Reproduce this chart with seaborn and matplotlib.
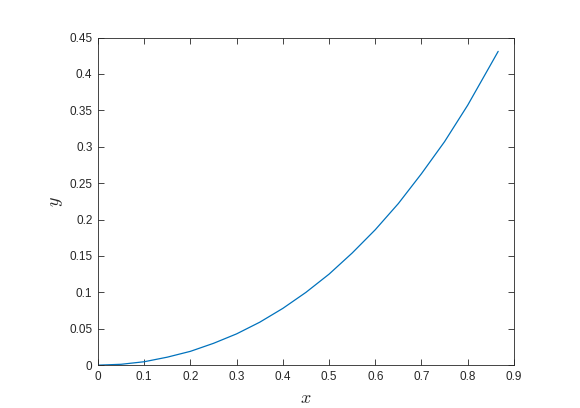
import numpy as np
import pandas as pd
import matplotlib
matplotlib.use("Agg")
import matplotlib.pyplot as plt
import matplotlib.ticker as mticker
import seaborn as sns

# ===============================
# Data
# ===============================
x_vals = [0.0, 0.05, 0.1, 0.15, 0.2, 0.25, 0.3, 0.35, 0.4, 0.45,
          0.5, 0.55, 0.6, 0.65, 0.7, 0.75, 0.8, 0.85, 0.866]
y_vals = [0.0, 0.0012, 0.0047, 0.011, 0.019, 0.030, 0.043, 0.059, 0.078, 0.100,
          0.125, 0.154, 0.186, 0.222, 0.263, 0.307, 0.357, 0.413, 0.431]

x_ticks = [0, 0.1, 0.2, 0.3, 0.4, 0.5, 0.6, 0.7, 0.8, 0.9]
y_ticks = [0, 0.05, 0.1, 0.15, 0.2, 0.25, 0.3, 0.35, 0.4, 0.45]

df = pd.DataFrame({"x": x_vals, "y": y_vals})

# ===============================
# Style
# ===============================
sns.set_style("ticks")
plt.rcParams["font.family"] = ["Liberation Sans", "DejaVu Sans"]
plt.rcParams["mathtext.fontset"] = "cm"

fig = plt.figure(figsize=(5.8, 4.08), dpi=100)
ax = fig.add_axes([0.169, 0.105, 0.717, 0.803])

sns.lineplot(data=df, x="x", y="y", ax=ax, color="#0072BD", linewidth=0.9)

ax.set_xlim(0, 0.9)
ax.set_ylim(0, 0.45)
ax.set_xticks(x_ticks)
ax.set_yticks(y_ticks)
fmt = mticker.FuncFormatter(lambda v, p: "%g" % round(v, 4))
ax.xaxis.set_major_formatter(fmt)
ax.yaxis.set_major_formatter(fmt)

ax.tick_params(direction="in", length=4, width=0.6, colors="#262626",
               labelsize=8.5, top=True, right=True, pad=4)
for side in ax.spines.values():
    side.set_visible(True)
    side.set_linewidth(0.6)
    side.set_color("#262626")

ax.set_xlabel(r"$x$", fontsize=13, color="#262626", labelpad=5)
ax.set_ylabel(r"$y$", fontsize=13, color="#262626", labelpad=3)

plt.savefig("out.png", dpi=100)
plt.close()
